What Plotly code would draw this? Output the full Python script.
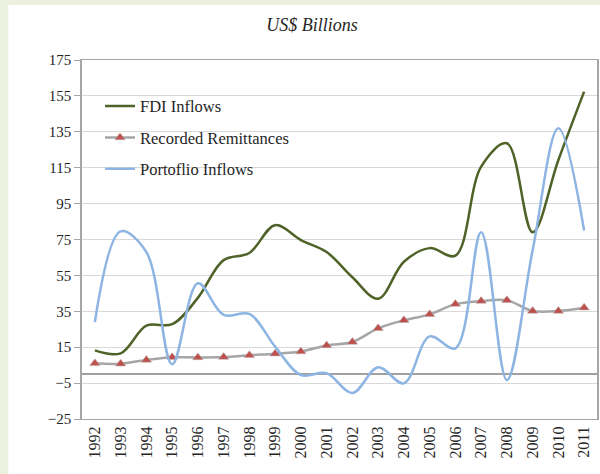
import plotly.graph_objects as go

years = [str(y) for y in range(1992, 2012)]
fdi = [13.2, 11.6, 27.0, 27.8, 42.5, 63.5, 67.5, 83.0, 74.7, 68.0, 54.0, 42.0, 62.6, 70.2, 66.0, 115.6, 128.6, 79.0, 119.3, 157.4]
remit = [6.0, 5.8, 7.9, 9.4, 9.3, 9.5, 10.5, 11.4, 12.6, 16.0, 17.9, 25.5, 30.0, 33.3, 39.0, 40.7, 41.2, 35.2, 35.2, 37.0]
portfolio = [29.0, 79.5, 68.0, 5.5, 50.6, 33.0, 33.5, 15.3, -0.5, 0.5, -10.5, 3.8, -5.1, 21.0, 14.4, 79.0, -3.3, 69.0, 137.0, 80.0]
y_ticks = [-25, -5, 15, 35, 55, 75, 95, 115, 135, 155, 175]

FONT = "Liberation Serif"

fig = go.Figure()
fig.add_trace(go.Scatter(x=years, y=fdi, name="FDI Inflows", mode="lines",
                         line=dict(color="#4F6228", width=2.5, shape="spline", smoothing=1),
                         legendgroup="a"))
fig.add_trace(go.Scatter(x=years, y=remit, name="Recorded Remittances", mode="lines+markers",
                         line=dict(color="#A6A6A6", width=2.5, shape="spline", smoothing=1),
                         marker=dict(symbol="triangle-up", size=9, color="#C0504D",
                                     line=dict(color="#B0B0B0", width=0.5)),
                         legendgroup="b"))
fig.add_trace(go.Scatter(x=years, y=portfolio, name="Portoflio Inflows", mode="lines",
                         line=dict(color="#8DB4E2", width=2.5, shape="spline", smoothing=1),
                         legendgroup="c"))

fig.update_layout(
    width=600, height=474,
    margin=dict(l=82, r=1, t=60, b=55),
    paper_bgcolor="#EBF1DE",
    plot_bgcolor="white",
    font=dict(family=FONT, size=15, color="#262626"),
    title=dict(text="<i>US$ Billions</i>", x=312/600, xref="container", xanchor="center",
               y=1-25/474, yref="container", yanchor="middle",
               font=dict(family=FONT, size=18, color="#262626")),
    showlegend=True,
    legend=dict(x=0.035, y=0.92, xanchor="left", yanchor="top",
                bgcolor="rgba(0,0,0,0)", traceorder="grouped", tracegroupgap=7,
                font=dict(family=FONT, size=16.5, color="#262626")),
    shapes=[dict(type="rect", xref="paper", yref="paper",
                 x0=(8-82)/517, x1=1.05, y0=-0.3, y1=(419-5)/359,
                 fillcolor="white", line=dict(width=0), layer="below")],
)
fig.update_xaxes(type="category", range=[-0.5, 19.5], tickangle=-90, showgrid=False,
                 showline=True, linecolor="#A6A6A6", linewidth=1, mirror=True, ticks="",
                 tickfont=dict(family=FONT, size=16, color="#262626"))
fig.update_yaxes(range=[-25, 175], tickvals=y_ticks, showgrid=True, gridcolor="#D9D9D9",
                 gridwidth=1, zeroline=True, zerolinecolor="#A0A0A0", zerolinewidth=1.5,
                 showline=True, linecolor="#A6A6A6", linewidth=1.5, mirror=True,
                 ticks="outside", ticklen=6, tickcolor="#A6A6A6",
                 tickfont=dict(family=FONT, size=15, color="#262626"))

fig.write_html("out.html", config={"displayModeBar": False},
               post_script="document.body.style.margin='0';document.body.style.overflow='hidden';")
